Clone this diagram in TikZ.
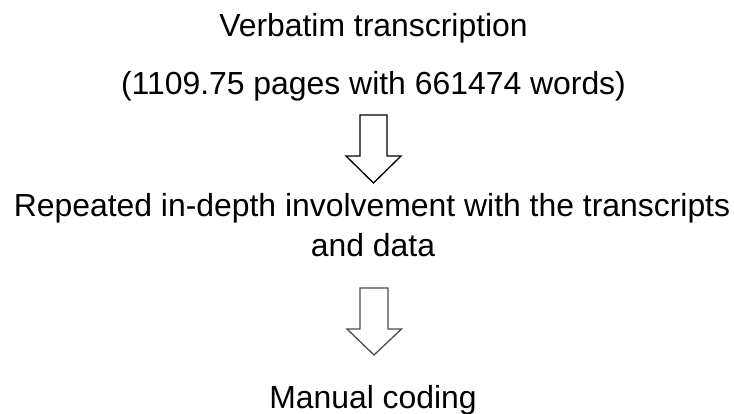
\documentclass[tikz,border=0pt]{standalone}
\usepackage{fontspec}
\setmainfont{Liberation Sans}
\begin{document}
\begin{tikzpicture}[x=1pt,y=-1pt,
  lbl/.style={anchor=base,inner sep=0pt,font=\fontsize{31.9}{38}\selectfont},
  blockarrow/.style={draw=#1,fill=white,line width=1.3pt,line join=miter}]
\useasboundingbox (0,0) rectangle (734,414);
\node[lbl] (t1) at (373.5,36.5) {Verbatim transcription};
\node[lbl] (t2) at (373.5,95) {(1109.75 pages with 661474 words)};
\node[lbl] (t3a) at (372,217) {Repeated in-depth involvement with the transcripts};
\node[lbl] (t3b) at (373,257) {and data};
\node[lbl] (t4) at (373,408) {Manual coding};
% block arrow 1
\coordinate (a1) at (373.5,115);
\draw[blockarrow=black] (a1) ++(-13.5,0) -- ++(27,0) -- ++(0,41) -- ++(14,0)
  -- (373.5,183) -- (346,156) -- ++(14,0) -- cycle;
% block arrow 2
\coordinate (a2) at (374,288);
\draw[blockarrow={black!70}] (a2) ++(-14,0) -- ++(28,0) -- ++(0,41) -- ++(13.5,0)
  -- (374,355) -- (347,329) -- ++(13,0) -- cycle;
\end{tikzpicture}
\end{document}
